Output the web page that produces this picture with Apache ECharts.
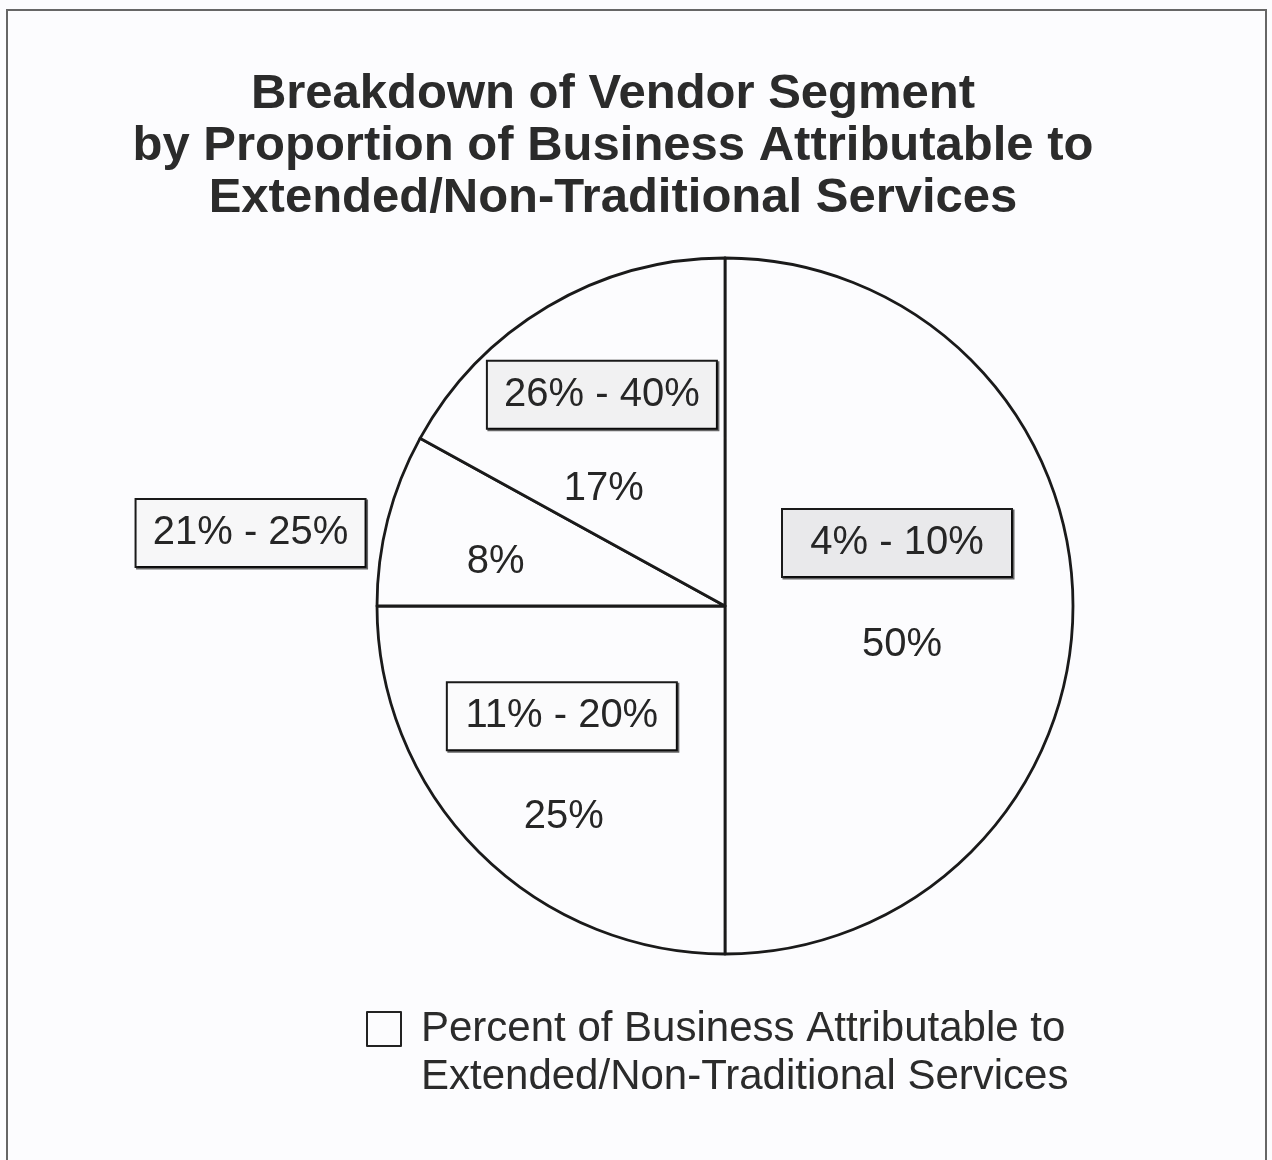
<!DOCTYPE html>
<html>
<head>
<meta charset="utf-8">
<script src="https://cdn.jsdelivr.net/npm/echarts@6/dist/echarts.min.js"></script>
<style>
  html, body { margin: 0; padding: 0; background: #fcfcfe; }
  #chart { width: 1272px; height: 1160px; }
</style>
</head>
<body>
<div id="chart"></div>
<script>
// ---- data ----
const titleLines = [
  'Breakdown of Vendor Segment',
  'by Proportion of Business Attributable to',
  'Extended/Non-Traditional Services'
];
const categories = ['4% - 10%', '11% - 20%', '21% - 25%', '26% - 40%'];
const shares = [50, 25, 8, 17];
const legendLines = ['Percent of Business Attributable to', 'Extended/Non-Traditional Services'];

// ---- styling / layout (not data) ----
const FONT = '"Liberation Sans", Arial, Helvetica, sans-serif';
const boxFills = ['#e9e9eb', '#fbfbfc', '#f7f7f8', '#f1f1f2'];
const valueOffsets = [[0, 39], [-36, 86], [-58, 0], [-31, 35]];
const boxOffsets = [[-5, -63], [-38, -15], [-303, -29], [-33, -59]];
const seriesName = legendLines.join(' ');
const CENTER = [725, 606];
const RADIUS = 348;

const chart = echarts.init(document.getElementById('chart'), null, { renderer: 'canvas' });

const valueData = categories.map((c, i) => ({ name: c, value: shares[i] }));
const boxData = categories.map((c, i) => ({
  name: c,
  value: shares[i],
  label: { backgroundColor: boxFills[i] }
}));

const option = {
  backgroundColor: '#fcfcfe',
  animation: false,
  title: {
    text: titleLines.join('\n'),
    left: 608,
    top: 63,
    textAlign: 'center',
    textStyle: {
      fontFamily: FONT,
      fontSize: 49,
      fontWeight: 'bold',
      lineHeight: 52,
      color: '#2b2b2b'
    }
  },
  legend: {
    data: [{ name: seriesName }],
    left: 366,
    top: 957,
    padding: 0,
    itemWidth: 34,
    itemHeight: 34,
    icon: 'rect',
    selectedMode: false,
    itemStyle: { color: '#fcfcfe', borderColor: '#222', borderWidth: 2 },
    formatter: () => ' \n' + legendLines.join('\n'),
    textStyle: {
      fontFamily: FONT,
      fontSize: 42,
      lineHeight: 48,
      color: '#2b2b2b',
      padding: [0, 0, 0, 15]
    }
  },
  graphic: [{
    type: 'rect',
    shape: { x: 7, y: 10, width: 1259, height: 1200 },
    style: { fill: null, stroke: '#666', lineWidth: 2 },
    silent: true
  }],
  series: [
    {
      name: seriesName,
      type: 'pie',
      center: CENTER,
      radius: RADIUS,
      startAngle: 90,
      clockwise: true,
      silent: true,
      emphasis: { disabled: true },
      itemStyle: { color: '#fcfcfe', borderColor: '#1a1a1a', borderWidth: 2.8 },
      label: {
        show: true,
        position: 'inside',
        formatter: '{c}%',
        fontFamily: FONT,
        fontSize: 40,
        color: '#262626'
      },
      labelLine: { show: false },
      labelLayout: (p) => ({ dx: valueOffsets[p.dataIndex][0], dy: valueOffsets[p.dataIndex][1] }),
      data: valueData
    },
    {
      name: 'range-boxes',
      type: 'pie',
      center: CENTER,
      radius: RADIUS,
      startAngle: 90,
      clockwise: true,
      silent: true,
      z: 3,
      emphasis: { disabled: true },
      itemStyle: { color: 'rgba(0,0,0,0)', borderWidth: 0 },
      label: {
        show: true,
        position: 'inside',
        formatter: '{b}',
        fontFamily: FONT,
        fontSize: 40,
        lineHeight: 40,
        color: '#262626',
        width: 200,
        align: 'center',
        padding: [13, 14],
        borderColor: '#1a1a1a',
        borderWidth: 2,
        shadowColor: 'rgba(0,0,0,0.6)',
        shadowOffsetX: 1.5,
        shadowOffsetY: 1.5,
        shadowBlur: 0
      },
      labelLine: { show: false },
      labelLayout: (p) => ({ dx: boxOffsets[p.dataIndex][0], dy: boxOffsets[p.dataIndex][1] }),
      data: boxData
    }
  ]
};

chart.setOption(option);
</script>
</body>
</html>
